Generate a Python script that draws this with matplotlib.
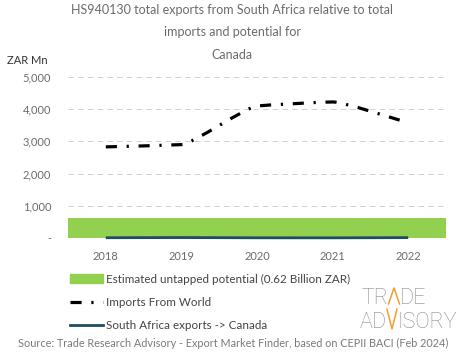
import matplotlib.pyplot as plt
import numpy as np
from matplotlib.lines import Line2D
from matplotlib.patches import Patch, PathPatch
from matplotlib.path import Path

years = ["2018", "2019", "2020", "2021", "2022"]
imports_world = [2830, 2900, 4100, 4225, 3580]
sa_exports = [8, 14, 6, 5, 12]
untapped_potential = 620  # ZAR Mn (0.62 Billion ZAR)
y_ticks = [0, 1000, 2000, 3000, 4000, 5000]
y_labels = ["-", "1,000", "2,000", "3,000", "4,000", "5,000"]

FONT = "Lato"
GREY = "#6b6b6b"
ORANGE = "#f0a030"
plt.rcParams["font.family"] = [FONT, "DejaVu Sans"]
plt.rcParams["lines.scale_dashes"] = False


def smooth_path(xs, ys, k=0.15):
    # bezier through the points with short handles: nearly straight, rounded corners
    xs = np.asarray(xs, float)
    ys = np.asarray(ys, float)
    h = np.diff(xs)
    d = np.diff(ys) / h
    m = np.zeros(len(xs))
    m[0], m[-1] = d[0], d[-1]
    for i in range(1, len(xs) - 1):
        if d[i - 1] * d[i] > 0:
            m[i] = 2 / (1 / d[i - 1] + 1 / d[i])
    verts = [(xs[0], ys[0])]
    codes = [Path.MOVETO]
    for i in range(len(xs) - 1):
        verts += [(xs[i] + h[i] * k, ys[i] + m[i] * h[i] * k),
                  (xs[i + 1] - h[i] * k, ys[i + 1] - m[i + 1] * h[i] * k),
                  (xs[i + 1], ys[i + 1])]
        codes += [Path.CURVE4] * 3
    return Path(verts, codes)


fig = plt.figure(figsize=(4.65, 3.59), dpi=100)
ax = fig.add_axes([68 / 465, 1 - 238 / 359, (446 - 68) / 465, (238 - 77) / 359])

x = np.arange(len(years))
ax.set_xlim(-0.5, len(years) - 0.5)
ax.set_ylim(0, 5000)

ax.fill_between([-0.5, len(years) - 0.5], 0, untapped_potential, color="#92d050", lw=0, zorder=2)

imp_style = dict(color="black", lw=2.3, linestyle=(0, (8, 7, 1.6, 7)))
ax.add_patch(PathPatch(smooth_path(x, imports_world), fill=False, zorder=3, **imp_style))
exp_style = dict(color="#1d4e5f", lw=2.0)
ax.add_patch(PathPatch(smooth_path(x, sa_exports), fill=False, zorder=3, clip_on=False, **exp_style))

ax.set_yticks(y_ticks)
ax.set_yticklabels(y_labels)
ax.set_xticks(x)
ax.set_xticklabels(years)
ax.tick_params(length=0, colors=GREY, labelsize=8)
ax.tick_params(axis="x", pad=9)
ax.tick_params(axis="y", pad=12)
ax.grid(axis="y", color="#d0d0d0", linestyle=(0, (4, 3)), lw=0.7)
ax.set_axisbelow(True)
for spine in ax.spines.values():
    spine.set_visible(False)

fig.text(48 / 465, 1 - 60 / 359, "ZAR Mn", ha="right", va="center", fontsize=8, color="#333333")
title = "HS940130 total exports from South Africa relative to total\nimports and potential for\nCanada"
fig.text(232 / 465, 1 - 4 / 359, title, ha="center", va="top", fontsize=9, color=GREY, linespacing=2.05)

handles = [
    Patch(color="#92d050"),
    Line2D([], [], **imp_style),
    Line2D([], [], **exp_style),
]
labels = [
    "Estimated untapped potential (0.62 Billion ZAR)",
    "Imports From World",
    "South Africa exports -> Canada",
]
fig.legend(handles, labels, loc="upper left", bbox_to_anchor=(64 / 465, 1 - 268 / 359),
           frameon=False, fontsize=8.4, handlelength=2.8, handleheight=0.8, handletextpad=0.3,
           labelspacing=1.05, labelcolor="#444444", borderpad=0)

fig.text(233 / 465, 1 - 343 / 359,
         "Source: Trade Research Advisory - Export Market Finder, based on CEPII BACI (Feb 2024)",
         ha="center", va="center", fontsize=7.85, color="#7a7a7a")

# logo: grey letters with an orange zigzag for the A and V
logo = dict(fontsize=15.5, color="#8c8c8c", family="Roboto", fontweight="light", va="baseline")
fig.text(388 / 465, 1 - 304 / 359, "TR", ha="right", **logo)
fig.text(400 / 465, 1 - 304 / 359, "DE", ha="left", **logo)
fig.text(387 / 465, 1 - 328 / 359, "AD", ha="right", **logo)
fig.text(397.5 / 465, 1 - 328 / 359, "ISORY", ha="left", **logo)
fig.add_artist(Line2D(np.array([388.5, 394, 399.5]) / 465, 1 - np.array([304, 288, 304]) / 359,
                      color=ORANGE, lw=1.1))
fig.add_artist(Line2D(np.array([387, 392, 397]) / 465, 1 - np.array([309, 329, 309]) / 359,
                      color=ORANGE, lw=1.1))

fig.savefig("out.png", dpi=100)
